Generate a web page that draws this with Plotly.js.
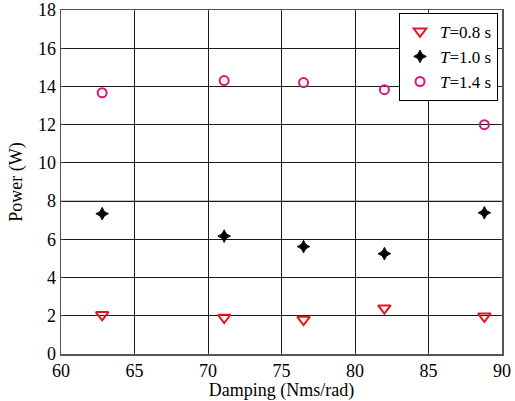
<!DOCTYPE html>
<html>
<head>
<meta charset="utf-8">
<script src="https://cdn.plot.ly/plotly-3.0.1.min.js"></script>
<style>html,body{margin:0;padding:0;background:#fff;}#chart{width:515px;height:401px;}</style>
</head>
<body>
<div id="chart"></div>
<script>
const damping = [62.8, 71.1, 76.5, 82.0, 88.8];
const powerT08 = [2.05, 1.91, 1.8, 2.4, 1.97];
const powerT10 = [7.34, 6.17, 5.62, 5.25, 7.39];
const powerT14 = [13.67, 14.31, 14.2, 13.83, 12.0];
const seriesNames = ['<i>T</i>=0.8 s', '<i>T</i>=1.0 s', '<i>T</i>=1.4 s'];
const xTicks = [60, 65, 70, 75, 80, 85, 90];
const yTicks = [0, 2, 4, 6, 8, 10, 12, 14, 16, 18];

const serif = 'Liberation Serif, Times New Roman, serif';

const traces = [
  {x: damping, y: powerT08, name: seriesNames[0], mode: 'markers', type: 'scatter',
   marker: {symbol: 'triangle-down-open', size: 11, color: '#e8141e', line: {width: 2, color: '#e8141e'}}},
  {x: damping, y: powerT10, name: seriesNames[1], mode: 'markers', type: 'scatter',
   marker: {symbol: 'star-diamond', size: 9, color: '#000', line: {width: 1, color: '#000'}}},
  {x: damping, y: powerT14, name: seriesNames[2], mode: 'markers', type: 'scatter',
   marker: {symbol: 'circle-open', size: 9, color: '#d6177f', line: {width: 2, color: '#d6177f'}}}
];

const axisCommon = {
  showline: true, mirror: 'ticks', linecolor: '#555', linewidth: 1.5,
  showgrid: true, gridcolor: '#1a1a1a', gridwidth: 1,
  ticks: 'inside', ticklen: 3, tickcolor: '#333',
  zeroline: false,
  tickfont: {family: serif, size: 18, color: '#000'}
};

const layout = {
  width: 515, height: 401,
  margin: {l: 61, r: 13, t: 10, b: 47},
  paper_bgcolor: '#fff', plot_bgcolor: '#fff',
  showlegend: true,
  legend: {x: 0.991, y: 0.992, xanchor: 'right', yanchor: 'top',
           bgcolor: '#fff', bordercolor: '#000', borderwidth: 1,
           font: {family: serif, size: 17, color: '#000'},
           tracegroupgap: 0, itemwidth: 30},
  xaxis: Object.assign({}, axisCommon, {
    range: [60, 90], tickvals: xTicks, ticktext: xTicks.map(String),
    title: {text: 'Damping (Nms/rad)', font: {family: serif, size: 18, color: '#000'}, standoff: 2}
  }),
  yaxis: Object.assign({}, axisCommon, {
    range: [0, 18], tickvals: yTicks, ticktext: yTicks.map(String),
    title: {text: 'Power (W)', font: {family: serif, size: 18, color: '#000'}, standoff: 10}
  }),
  shapes: [
    {type: 'line', xref: 'paper', yref: 'y', x0: 0, x1: 1, y0: 8, y1: 8,
     line: {color: '#b0b0b0', width: 1.5}, layer: 'between'}
  ]
};

Plotly.newPlot('chart', traces, layout, {staticPlot: true, displayModeBar: false});
</script>
</body>
</html>
